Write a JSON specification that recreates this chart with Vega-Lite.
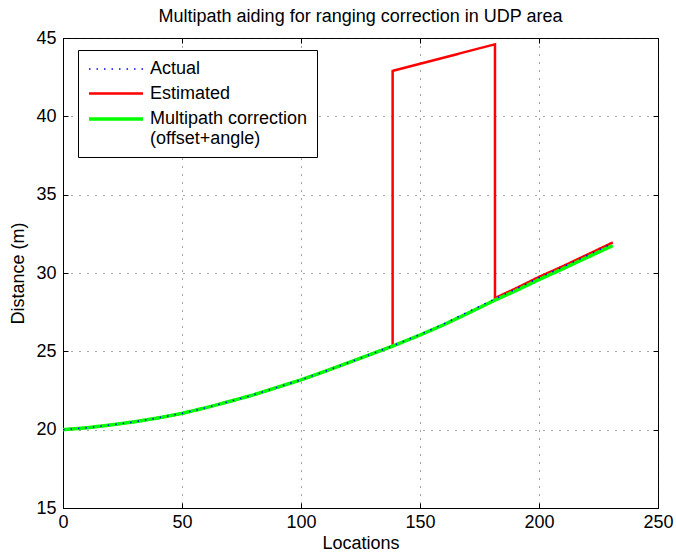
{
  "$schema": "https://vega.github.io/schema/vega-lite/v6.json",
  "autosize": {"type": "none"},
  "width": 595,
  "height": 470,
  "padding": {"left": 63, "top": 38, "right": 18, "bottom": 47},
  "background": "white",
  "title": {
    "text": "Multipath aiding for ranging correction in UDP area",
    "fontSize": 18,
    "fontWeight": "normal",
    "font": "Liberation Sans",
    "color": "black",
    "baseline": "bottom",
    "offset": 10,
    "dy": 25,
    "anchor": "middle"
  },
  "config": {
    "font": "Liberation Sans",
    "view": {"stroke": "black", "strokeWidth": 1},
    "axis": {
      "labelFont": "Liberation Sans",
      "titleFont": "Liberation Sans",
      "labelFontSize": 18,
      "titleFontSize": 18,
      "titleFontWeight": "normal",
      "labelColor": "black",
      "titleColor": "black",
      "domainColor": "black",
      "tickColor": "black",
      "tickSize": -5,
      "gridColor": "#222222",
      "gridOpacity": 0.8,
      "gridDash": [1, 7],
      "gridWidth": 1
    }
  },
  "datasets": {
    "lines": [
      {"series": "Estimated", "i": 0, "x": 0, "y": 20.0},
      {"series": "Estimated", "i": 1, "x": 10, "y": 20.12},
      {"series": "Estimated", "i": 2, "x": 20, "y": 20.3},
      {"series": "Estimated", "i": 3, "x": 30, "y": 20.5},
      {"series": "Estimated", "i": 4, "x": 40, "y": 20.75},
      {"series": "Estimated", "i": 5, "x": 50, "y": 21.04},
      {"series": "Estimated", "i": 6, "x": 60, "y": 21.4},
      {"series": "Estimated", "i": 7, "x": 70, "y": 21.8},
      {"series": "Estimated", "i": 8, "x": 80, "y": 22.22},
      {"series": "Estimated", "i": 9, "x": 90, "y": 22.7},
      {"series": "Estimated", "i": 10, "x": 100, "y": 23.18},
      {"series": "Estimated", "i": 11, "x": 110, "y": 23.72},
      {"series": "Estimated", "i": 12, "x": 120, "y": 24.28},
      {"series": "Estimated", "i": 13, "x": 130, "y": 24.85},
      {"series": "Estimated", "i": 14, "x": 138.5, "y": 25.35},
      {"series": "Estimated", "i": 15, "x": 138.5, "y": 42.9},
      {"series": "Estimated", "i": 16, "x": 181.5, "y": 44.6},
      {"series": "Estimated", "i": 17, "x": 181.5, "y": 28.4},
      {"series": "Estimated", "i": 18, "x": 190, "y": 29.0},
      {"series": "Estimated", "i": 19, "x": 200, "y": 29.75},
      {"series": "Estimated", "i": 20, "x": 210, "y": 30.43},
      {"series": "Estimated", "i": 21, "x": 220, "y": 31.15},
      {"series": "Estimated", "i": 22, "x": 231, "y": 31.95},
      {"series": "Multipath correction", "i": 0, "x": 0, "y": 20.0},
      {"series": "Multipath correction", "i": 1, "x": 10, "y": 20.12},
      {"series": "Multipath correction", "i": 2, "x": 20, "y": 20.3},
      {"series": "Multipath correction", "i": 3, "x": 30, "y": 20.5},
      {"series": "Multipath correction", "i": 4, "x": 40, "y": 20.75},
      {"series": "Multipath correction", "i": 5, "x": 50, "y": 21.04},
      {"series": "Multipath correction", "i": 6, "x": 60, "y": 21.4},
      {"series": "Multipath correction", "i": 7, "x": 70, "y": 21.8},
      {"series": "Multipath correction", "i": 8, "x": 80, "y": 22.22},
      {"series": "Multipath correction", "i": 9, "x": 90, "y": 22.7},
      {"series": "Multipath correction", "i": 10, "x": 100, "y": 23.18},
      {"series": "Multipath correction", "i": 11, "x": 110, "y": 23.72},
      {"series": "Multipath correction", "i": 12, "x": 120, "y": 24.28},
      {"series": "Multipath correction", "i": 13, "x": 130, "y": 24.85},
      {"series": "Multipath correction", "i": 14, "x": 138.5, "y": 25.33},
      {"series": "Multipath correction", "i": 15, "x": 150, "y": 26.04},
      {"series": "Multipath correction", "i": 16, "x": 160, "y": 26.7},
      {"series": "Multipath correction", "i": 17, "x": 170, "y": 27.42},
      {"series": "Multipath correction", "i": 18, "x": 181.5, "y": 28.27},
      {"series": "Multipath correction", "i": 19, "x": 190, "y": 28.85},
      {"series": "Multipath correction", "i": 20, "x": 200, "y": 29.58},
      {"series": "Multipath correction", "i": 21, "x": 210, "y": 30.27},
      {"series": "Multipath correction", "i": 22, "x": 220, "y": 30.98},
      {"series": "Multipath correction", "i": 23, "x": 231, "y": 31.75},
      {"series": "Actual", "i": 0, "x": 0, "y": 20.0},
      {"series": "Actual", "i": 1, "x": 10, "y": 20.12},
      {"series": "Actual", "i": 2, "x": 20, "y": 20.3},
      {"series": "Actual", "i": 3, "x": 30, "y": 20.5},
      {"series": "Actual", "i": 4, "x": 40, "y": 20.75},
      {"series": "Actual", "i": 5, "x": 50, "y": 21.04},
      {"series": "Actual", "i": 6, "x": 60, "y": 21.4},
      {"series": "Actual", "i": 7, "x": 70, "y": 21.8},
      {"series": "Actual", "i": 8, "x": 80, "y": 22.22},
      {"series": "Actual", "i": 9, "x": 90, "y": 22.7},
      {"series": "Actual", "i": 10, "x": 100, "y": 23.18},
      {"series": "Actual", "i": 11, "x": 110, "y": 23.72},
      {"series": "Actual", "i": 12, "x": 120, "y": 24.28},
      {"series": "Actual", "i": 13, "x": 130, "y": 24.85},
      {"series": "Actual", "i": 14, "x": 138.5, "y": 25.35},
      {"series": "Actual", "i": 15, "x": 150, "y": 26.07},
      {"series": "Actual", "i": 16, "x": 160, "y": 26.75},
      {"series": "Actual", "i": 17, "x": 170, "y": 27.5},
      {"series": "Actual", "i": 18, "x": 181.5, "y": 28.35},
      {"series": "Actual", "i": 19, "x": 190, "y": 28.95},
      {"series": "Actual", "i": 20, "x": 200, "y": 29.7},
      {"series": "Actual", "i": 21, "x": 210, "y": 30.38},
      {"series": "Actual", "i": 22, "x": 220, "y": 31.1},
      {"series": "Actual", "i": 23, "x": 231, "y": 31.9}
    ]
  },
  "data": {"name": "lines"},
  "layer": [
    {
      "mark": {"type": "line", "strokeCap": "butt", "strokeJoin": "miter"},
      "encoding": {
        "x": {
          "field": "x", "type": "quantitative",
          "scale": {"domain": [0, 250], "nice": false, "zero": false},
          "axis": {"values": [0, 50, 100, 150, 200, 250], "title": "Locations", "labelPadding": 10, "titlePadding": 3, "grid": true, "labelFlush": false, "labelOverlap": false}
        },
        "y": {
          "field": "y", "type": "quantitative",
          "scale": {"domain": [15, 45], "nice": false, "zero": false},
          "axis": {"values": [15, 20, 25, 30, 35, 40, 45], "title": "Distance (m)", "labelPadding": 12, "titlePadding": 8, "grid": true, "labelFlush": false, "labelOverlap": false}
        },
        "color": {
          "field": "series", "type": "nominal",
          "scale": {"domain": ["Actual", "Estimated", "Multipath correction"], "range": ["#0000ff", "#ff0000", "#00ff00"]},
          "legend": {
            "title": null,
            "orient": "none",
            "legendX": 15,
            "legendY": 12,
            "direction": "vertical",
            "strokeColor": "black",
            "fillColor": "white",
            "padding": 9,
            "symbolType": "M-3,0L3,0",
            "symbolSize": 324,
            "symbolOffset": 18,
            "labelOffset": 23,
            "labelFontSize": 18,
            "labelFont": "Liberation Sans",
            "labelColor": "black",
            "labelLimit": 300,
            "labelLineHeight": 21,
            "rowPadding": 5,
            "labelExpr": "datum.label == 'Multipath correction' ? ['Multipath correction', '(offset+angle)'] : datum.label"
          }
        },
        "strokeDash": {
          "field": "series", "type": "nominal",
          "scale": {"domain": ["Actual", "Estimated", "Multipath correction"], "range": [[1.5, 6], [1, 0], [1, 0]]},
          "legend": null
        },
        "strokeWidth": {
          "field": "series", "type": "nominal",
          "scale": {"domain": ["Actual", "Estimated", "Multipath correction"], "range": [1.5, 3.5, 4]},
          "legend": null
        },
        "order": {"field": "i", "type": "quantitative"}
      }
    },
    {
      "mark": {"type": "line", "opacity": 0},
      "encoding": {
        "x": {"field": "x", "type": "quantitative", "axis": {"orient": "top", "values": [0, 50, 100, 150, 200, 250], "labels": false, "title": null, "grid": false, "domain": false}},
        "y": {"field": "y", "type": "quantitative", "axis": {"orient": "right", "values": [15, 20, 25, 30, 35, 40, 45], "labels": false, "title": null, "grid": false, "domain": false}},
        "detail": {"field": "series", "type": "nominal"},
        "order": {"field": "i", "type": "quantitative"}
      }
    }
  ],
  "resolve": {"axis": {"x": "independent", "y": "independent"}}
}
